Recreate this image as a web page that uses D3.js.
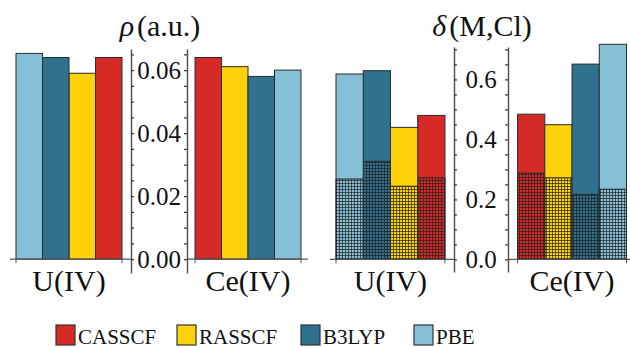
<!DOCTYPE html>
<html>
<head>
<meta charset="utf-8">
<script src="https://cdn.jsdelivr.net/npm/d3@7"></script>
<style>
  body { margin: 0; background: #fff; }
  svg text { font-family: "Liberation Serif", "Times New Roman", Times, serif; }
</style>
</head>
<body>
<div id="chart"></div>
<script>
// data
var categories = ["U(IV)", "Ce(IV)"];
var methods = ["CASSCF", "RASSCF", "B3LYP", "PBE"];
var barOrder = {
    "U(IV)": ["PBE", "B3LYP", "RASSCF", "CASSCF"],
    "Ce(IV)": ["CASSCF", "RASSCF", "B3LYP", "PBE"]
};
var rhoU = [0.0640, 0.0590, 0.0640, 0.0653];
var rhoCe = [0.0640, 0.0611, 0.0580, 0.0600];
var deltaTotalU = [0.480, 0.440, 0.629, 0.618];
var deltaTotalCe = [0.484, 0.449, 0.651, 0.717];
var deltaHatchU = [0.272, 0.244, 0.327, 0.268];
var deltaHatchCe = [0.288, 0.272, 0.217, 0.234];
var rhoTickLabels = [0, 0.02, 0.04, 0.06];
var deltaTickLabels = [0, 0.2, 0.4, 0.6];

var colors = d3.scaleOrdinal()
    .domain(methods)
    .range(["#d62a27", "#fdd20a", "#2e7290", "#85c0d6"]);

var width = 630, height = 348;
var svg = d3.select("#chart").append("svg")
    .attr("width", width)
    .attr("height", height);

// grid hatch for the lower part of delta bars
var defs = svg.append("defs");
var pat = defs.append("pattern")
    .attr("id", "grid")
    .attr("patternUnits", "userSpaceOnUse")
    .attr("width", 3)
    .attr("height", 3);
pat.append("path")
    .attr("d", "M0,0.5H3M0.5,0V3")
    .attr("stroke", "#1c1c1c")
    .attr("stroke-opacity", 0.75)
    .attr("stroke-width", 0.9);

function rows(valsU, valsCe, hatchU, hatchCe) {
    var out = [];
    methods.forEach(function (m, i) {
        out.push({cat: "U(IV)", method: m, value: valsU[i], hatch: hatchU ? hatchU[i] : null});
        out.push({cat: "Ce(IV)", method: m, value: valsCe[i], hatch: hatchCe ? hatchCe[i] : null});
    });
    return out;
}

function drawPanel(cfg) {
    var g = svg.append("g");

    var y = d3.scaleLinear().domain(cfg.yDomain).range([cfg.yBottom, cfg.yTop]);
    var x0 = d3.scaleBand().domain(categories).range(cfg.xRange).paddingInner(cfg.pad);

    var x1 = {};
    categories.forEach(function (c) {
        x1[c] = d3.scaleBand().domain(barOrder[c])
            .range([x0(c), x0(c) + x0.bandwidth()]);
    });

    var base = y(0);

    // bars
    var bars = g.selectAll(".bar")
        .data(cfg.data)
        .enter().append("g")
        .attr("class", "bar");

    bars.append("rect")
        .attr("x", function (d) { return x1[d.cat](d.method); })
        .attr("y", function (d) { return y(d.value); })
        .attr("width", function (d) { return x1[d.cat].bandwidth(); })
        .attr("height", function (d) { return base - y(d.value); })
        .attr("fill", function (d) { return colors(d.method); })
        .attr("stroke", "#2b2b2b")
        .attr("stroke-width", 1);

    if (cfg.hatched) {
        bars.append("rect")
            .attr("x", function (d) { return x1[d.cat](d.method); })
            .attr("y", function (d) { return y(d.hatch); })
            .attr("width", function (d) { return x1[d.cat].bandwidth(); })
            .attr("height", function (d) { return base - y(d.hatch); })
            .attr("fill", "url(#grid)")
            .attr("stroke", "#2b2b2b")
            .attr("stroke-width", 1);
    }

    // category axes
    var catAxis = [
        {c: "U(IV)", x1: x0("U(IV)") - 6, x2: cfg.axisX},
        {c: "Ce(IV)", x1: cfg.frameX, x2: Math.min(x0("Ce(IV)") + x0.bandwidth() + 7, width)}
    ];
    catAxis.forEach(function (a) {
        g.append("line")
            .attr("x1", a.x1).attr("x2", a.x2)
            .attr("y1", base).attr("y2", base)
            .attr("stroke", "#555").attr("stroke-width", 1.3);
        [x0(a.c), x0(a.c) + x0.bandwidth()].forEach(function (tx) {
            g.append("line")
                .attr("x1", tx).attr("x2", tx)
                .attr("y1", base).attr("y2", base + 4)
                .attr("stroke", "#555").attr("stroke-width", 1);
        });
        g.append("text")
            .attr("x", x0(a.c) + x0.bandwidth() / 2)
            .attr("y", 291)
            .attr("text-anchor", "middle")
            .attr("font-size", 30)
            .attr("fill", "#111")
            .text(a.c);
    });

    // value axis with ticks on both frame lines
    var ticks = d3.range(0, cfg.yDomain[1] + 1e-9, cfg.minorStep);
    var axR = g.append("g")
        .attr("transform", "translate(" + cfg.axisX + ",0)")
        .call(d3.axisRight(y).tickValues(ticks).tickSize(3).tickSizeOuter(0).tickFormat(""));
    var axL = g.append("g")
        .attr("transform", "translate(" + cfg.frameX + ",0)")
        .call(d3.axisLeft(y).tickValues(ticks).tickSize(3).tickSizeOuter(0).tickFormat(""));
    [axR, axL].forEach(function (ax) {
        ax.select(".domain").attr("stroke", "#555").attr("stroke-width", 1.5);
        ax.selectAll(".tick line").attr("stroke", "#333").attr("stroke-width", 1.2);
    });

    var mid = (cfg.axisX + cfg.frameX) / 2;
    g.selectAll(".ylab")
        .data(cfg.tickLabels)
        .enter().append("text")
        .attr("class", "ylab")
        .attr("x", mid)
        .attr("y", function (d) { return y(d); })
        .attr("dy", "0.34em")
        .attr("text-anchor", "middle")
        .attr("font-size", 25)
        .attr("fill", "#111")
        .text(function (d) { return d3.format(cfg.fmt)(d); });

    // title
    var t = g.append("text")
        .attr("x", mid + 1)
        .attr("y", 36)
        .attr("text-anchor", "middle")
        .attr("font-size", 30)
        .attr("fill", "#111");
    t.append("tspan").attr("font-style", "italic").text(cfg.sym);
    t.append("tspan").attr("dx", 3).text(cfg.unit);
}

drawPanel({
    data: rows(rhoU, rhoCe),
    hatched: false,
    yDomain: [-0.0044, 0.0667],
    yBottom: 273, yTop: 49,
    xRange: [16, 301], pad: 0.408,
    axisX: 131, frameX: 187,
    minorStep: 0.005,
    tickLabels: rhoTickLabels, fmt: ".2f",
    sym: "ρ", unit: "(a.u.)"
});

drawPanel({
    data: rows(deltaTotalU, deltaTotalCe, deltaHatchU, deltaHatchCe),
    hatched: true,
    yDomain: [-0.042, 0.708],
    yBottom: 272, yTop: 47,
    xRange: [336, 626.5], pad: 0.4,
    axisX: 454, frameX: 508,
    minorStep: 0.05,
    tickLabels: deltaTickLabels, fmt: ".1f",
    sym: "δ", unit: "(M,Cl)"
});

// legend
var legendX = [56, 177, 301, 414];
var legend = svg.append("g").selectAll("g")
    .data(methods)
    .enter().append("g")
    .attr("transform", function (d, i) { return "translate(" + legendX[i] + ",325)"; });
legend.append("rect")
    .attr("width", 19)
    .attr("height", 20)
    .attr("fill", colors)
    .attr("stroke", "#333")
    .attr("stroke-width", 1.2);
legend.append("text")
    .attr("x", 22)
    .attr("y", 19)
    .attr("font-size", 21)
    .attr("fill", "#111")
    .text(function (d) { return d; });
</script>
</body>
</html>
